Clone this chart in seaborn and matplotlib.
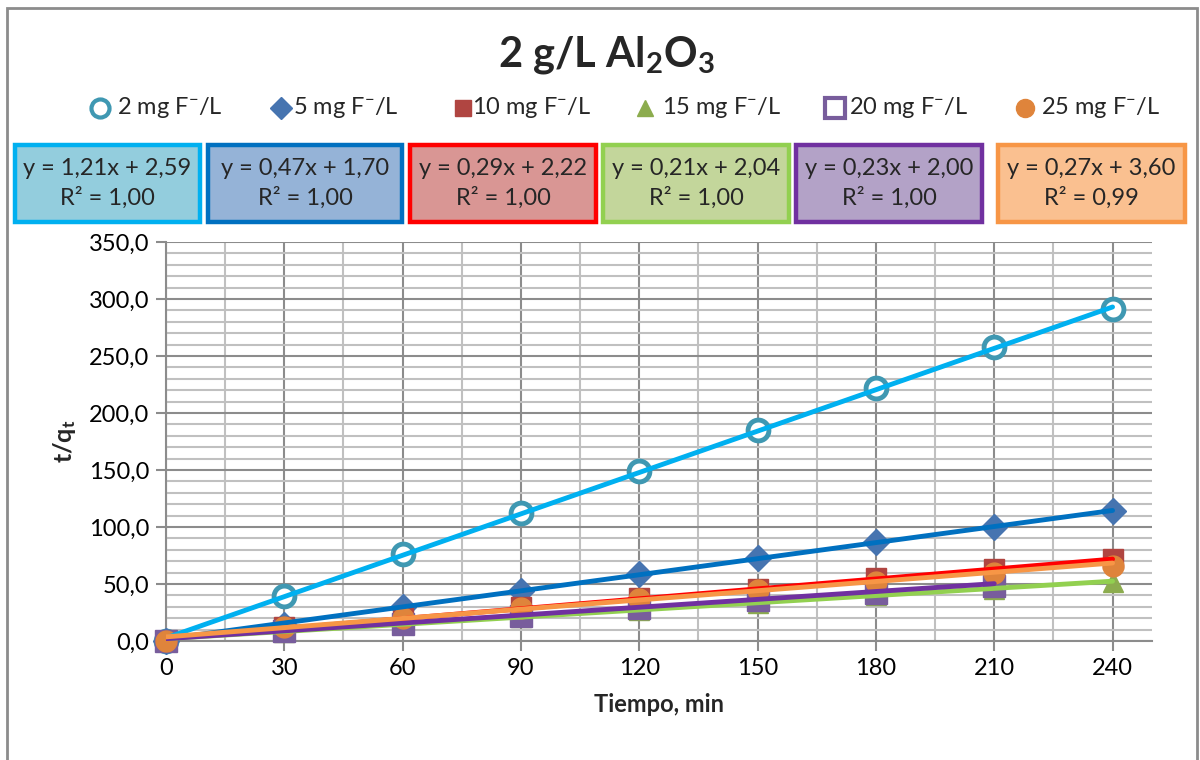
import numpy as np
import pandas as pd
import matplotlib
matplotlib.use('Agg')
import matplotlib.pyplot as plt
import seaborn as sns
from matplotlib.lines import Line2D
from matplotlib.patches import Rectangle
from matplotlib.ticker import MultipleLocator, FuncFormatter

# data
tiempo = [0, 30, 60, 90, 120, 150, 180, 210, 240]
series_names = ['2 mg F$^{-}$/L', '5 mg F$^{-}$/L', '10 mg F$^{-}$/L',
                '15 mg F$^{-}$/L', '20 mg F$^{-}$/L', '25 mg F$^{-}$/L']
y_2mg = [0, 39.5, 76.5, 112.5, 149, 185, 221.5, 258, 291.5]
y_5mg = [0, 14, 30, 44, 58.5, 72.5, 86.5, 100, 114]
y_10mg = [0, 12, 21, 30, 38, 46, 55, 63, 72]
y_15mg = [0, 8, 15, 21, 27, 33.5, 40, 46, 52]
y_20mg = [0, 9, 15, 22, 29, 36, 42, 48]
y_25mg = [0, 12, 20, 29, 37, 45, 52, 60, 66]
all_y = [y_2mg, y_5mg, y_10mg, y_15mg, y_20mg, y_25mg]

# trendline equations shown on the chart
slopes = [1.21, 0.47, 0.29, 0.21, 0.23, 0.27]
intercepts = [2.59, 1.70, 2.22, 2.04, 2.00, 3.60]
eq_labels = ['y = 1,21x + 2,59\nR² = 1,00', 'y = 0,47x + 1,70\nR² = 1,00',
             'y = 0,29x + 2,22\nR² = 1,00', 'y = 0,21x + 2,04\nR² = 1,00',
             'y = 0,23x + 2,00\nR² = 1,00', 'y = 0,27x + 3,60\nR² = 0,99']

# styles
markers = ['o', 'D', 's', '^', 's', 'o']
marker_colors = ['#3f98b2', '#4674b0', '#b04541', '#8cac4e', '#785d9c', '#df843b']
marker_faces = ['white', '#4674b0', '#b04541', '#8cac4e', '#785d9c', '#df843b']
marker_sizes = [15, 13, 14, 14, 16, 15]
line_colors = ['#00b0f0', '#0070c0', '#ff0000', '#92d050', '#7030a0', '#f79646']
box_fill = ['#93cddd', '#95b3d7', '#d99694', '#c3d69b', '#b3a2c7', '#fac090']

sns.set_theme(style='white')
plt.rcParams['font.family'] = ['Lato', 'DejaVu Sans']
plt.rcParams['mathtext.fontset'] = 'custom'
plt.rcParams['mathtext.rm'] = 'Lato'
plt.rcParams['mathtext.bf'] = 'Lato:bold'
plt.rcParams['mathtext.it'] = 'Lato'

fig = plt.figure(figsize=(12, 7.6), dpi=100)
ax = fig.add_axes([0.1383, 0.1566, 0.8217, 0.525])

for i, ys in enumerate(all_y):
    xs = tiempo[:len(ys)]
    ax.plot(xs, ys, linestyle='none', marker=markers[i], ms=marker_sizes[i],
            mfc=marker_faces[i], mec=marker_colors[i],
            mew=3.5 if i == 0 else 1, zorder=3, clip_on=False)

for i, ys in enumerate(all_y):
    xs = np.array([tiempo[0], tiempo[len(ys) - 1]])
    df = pd.DataFrame({'x': xs, 'y': slopes[i] * xs + intercepts[i]})
    sns.lineplot(data=df, x='x', y='y', ax=ax, color=line_colors[i],
                 linewidth=3.5, zorder=4)

ax.set_xlim(0, 250)
ax.set_ylim(0, 350)
ax.xaxis.set_major_locator(MultipleLocator(30))
ax.xaxis.set_minor_locator(MultipleLocator(15))
ax.yaxis.set_major_locator(MultipleLocator(50))
ax.yaxis.set_minor_locator(MultipleLocator(10))
ax.set_xticks(tiempo)
ax.yaxis.set_major_formatter(FuncFormatter(lambda v, p: f'{v:.1f}'.replace('.', ',')))
ax.grid(which='major', color='#8c8c8c', linewidth=1.5)
ax.grid(which='minor', color='#c0c0c0', linewidth=1.5)
ax.set_axisbelow(True)
for s in ['top', 'right']:
    ax.spines[s].set_visible(False)
for s in ['left', 'bottom']:
    ax.spines[s].set_color('#8c8c8c')
    ax.spines[s].set_linewidth(1.5)
ax.tick_params(which='major', direction='out', length=7, width=1.5, color='#8c8c8c',
               labelsize=17, labelcolor='black', pad=5,
               left=True, bottom=True)
ax.tick_params(which='minor', length=0)

ax.set_xlabel('Tiempo, min', fontsize=17, fontweight='bold', labelpad=10)
ax.set_ylabel(r't/q$_\mathbf{t}$', fontsize=18, fontweight='bold', labelpad=8)

fig.text(0.505, 0.928, r'2 g/L Al$_\mathbf{2}$O$_\mathbf{3}$', ha='center', va='center',
         fontsize=30, fontweight='bold')

# legend row
leg_y = 1 - 108 / 760
leg_marker_x = [100, 281, 463, 645, 835, 1025]
leg_text_x = [117, 293, 472, 662, 849, 1041]
for i in range(6):
    face = 'white' if i in (0, 4) else marker_faces[i]
    fig.add_artist(Line2D([leg_marker_x[i] / 1200], [leg_y], transform=fig.transFigure,
                          marker=markers[i], ms=marker_sizes[i] - 2, mfc=face,
                          mec=marker_colors[i], mew=3 if i in (0, 4) else 1,
                          linestyle='none'))
    fig.text(leg_text_x[i] / 1200, leg_y, series_names[i], ha='left', va='center',
             fontsize=17)

# equation boxes
box_left = [15, 208, 410, 603, 796, 998]
box_right = [200, 402, 596, 789, 982, 1185]
box_top, box_bot = 145, 222
for i in range(6):
    x0 = box_left[i] / 1200
    w = (box_right[i] - box_left[i]) / 1200
    y0 = 1 - box_bot / 760
    h = (box_bot - box_top) / 760
    fig.add_artist(Rectangle((x0, y0), w, h, transform=fig.transFigure,
                             facecolor=box_fill[i], edgecolor=line_colors[i],
                             linewidth=3.2))
    fig.text(x0 + w / 2, y0 + h / 2, eq_labels[i], ha='center', va='center',
             fontsize=17, linespacing=1.4)

# outer chart border
fig.add_artist(Rectangle((7 / 1200, -0.01), 1190 / 1200, 1 - 8 / 760 + 0.01,
                         transform=fig.transFigure, facecolor='none',
                         edgecolor='#8c8c8c', linewidth=2))

fig.savefig('out.png', dpi=100)
